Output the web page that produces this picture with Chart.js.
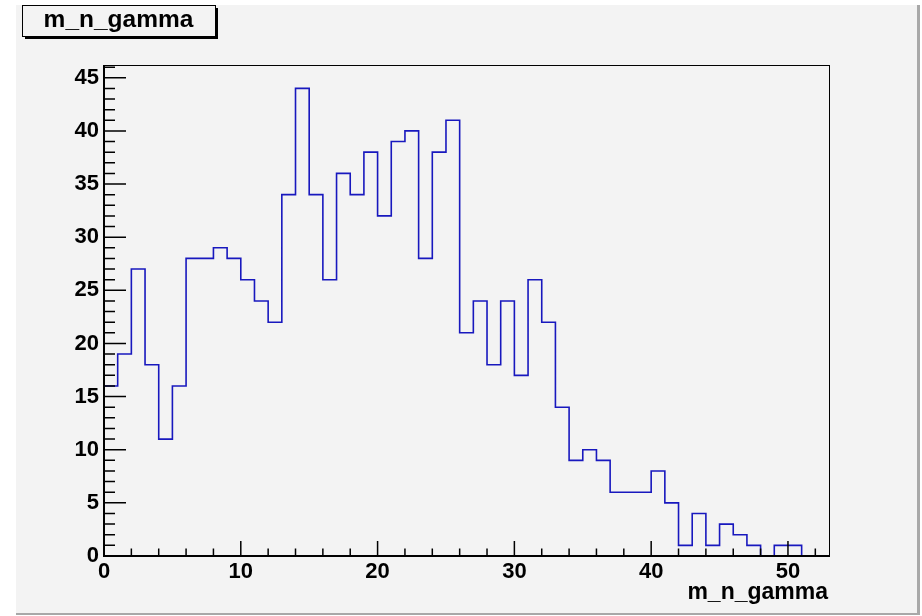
<!DOCTYPE html>
<html>
<head>
<meta charset="utf-8">
<script src="https://cdn.jsdelivr.net/npm/chart.js@4/dist/chart.umd.min.js"></script>
<style>
  html, body { margin: 0; padding: 0; background: #ffffff; }
  canvas { display: block; }
</style>
</head>
<body>
<canvas id="c" width="922" height="616"></canvas>
<script>
// ---- data ----
const histTitle = "m_n_gamma";
const axisTitle = "m_n_gamma";
const binEdges = [0,1,2,3,4,5,6,7,8,9,10,11,12,13,14,15,16,17,18,19,20,21,22,23,24,25,26,27,28,29,30,31,32,33,34,35,36,37,38,39,40,41,42,43,44,45,46,47,48,49,50,51,52,53];
const counts = [16,19,27,18,11,16,28,28,29,28,26,24,22,34,44,34,26,36,34,38,32,39,40,28,38,41,21,24,18,24,17,26,22,14,9,10,9,6,6,6,8,5,1,4,1,3,2,1,0,1,1,0,0];
const xTickLabels = [0,10,20,30,40,50];
const yTickLabels = [0,5,10,15,20,25,30,35,40,45];
const xMinorTicks = [0,2,4,6,8,10,12,14,16,18,20,22,24,26,28,30,32,34,36,38,40,42,44,46,48,50,52];
const yMinorTicks = [0,1,2,3,4,5,6,7,8,9,10,11,12,13,14,15,16,17,18,19,20,21,22,23,24,25,26,27,28,29,30,31,32,33,34,35,36,37,38,39,40,41,42,43,44,45,46];
const xMin = 0, xMax = 53, yMin = 0, yMax = 46.2;

// points for step outline: each bin's low edge with its count, plus closing edge
const points = counts.map((v, i) => ({x: binEdges[i], y: v}));
points.push({x: binEdges[binEdges.length - 1], y: counts[counts.length - 1]});

const BG = '#f3f3f3';
const FONT = '"Liberation Sans", Arial, Helvetica, sans-serif';

const rootPlugin = {
  id: 'rootStyle',
  beforeDraw(chart) {
    const ctx = chart.ctx;
    ctx.save();
    ctx.fillStyle = '#ffffff';
    ctx.fillRect(0, 0, chart.width, chart.height);
    ctx.fillStyle = BG;
    ctx.fillRect(16, 5, 901, 608);
    ctx.fillStyle = '#a8a8a8';
    ctx.fillRect(917, 5, 3, 610);
    ctx.fillRect(16, 613, 904, 2);
    ctx.restore();
  },
  afterDraw(chart) {
    const ctx = chart.ctx;
    const xs = chart.scales.x, ys = chart.scales.y;
    const a = chart.chartArea;
    ctx.save();
    // frame
    ctx.strokeStyle = '#000000';
    ctx.lineWidth = 1;
    ctx.strokeRect(a.left + 0.5, a.top + 0.5, a.right - a.left, a.bottom - a.top);
    // axes (thicker)
    ctx.lineWidth = 2;
    ctx.beginPath();
    ctx.moveTo(a.left, a.top); ctx.lineTo(a.left, a.bottom + 1);
    ctx.moveTo(a.left - 1, a.bottom); ctx.lineTo(a.right + 1, a.bottom);
    ctx.stroke();
    ctx.lineWidth = 1.5;
    ctx.beginPath();
    // x ticks (inward)
    xMinorTicks.forEach(v => {
      const px = xs.getPixelForValue(v);
      const len = xTickLabels.includes(v) ? 15 : 7.5;
      ctx.moveTo(px, a.bottom); ctx.lineTo(px, a.bottom - len);
    });
    // y ticks (inward)
    yMinorTicks.forEach(v => {
      const py = ys.getPixelForValue(v);
      const len = yTickLabels.includes(v) ? 22 : 11;
      ctx.moveTo(a.left, py); ctx.lineTo(a.left + len, py);
    });
    ctx.stroke();

    // axis title
    ctx.fillStyle = '#000000';
    ctx.font = 'bold 23px ' + FONT;
    ctx.textAlign = 'right';
    ctx.textBaseline = 'alphabetic';
    ctx.fillText(axisTitle, a.right - 1, 599);

    // title box with shadow
    const bx = 22, by = 5, bw = 193, bh = 31;
    ctx.fillStyle = '#000000';
    ctx.fillRect(bx + 3, by + 3, bw, bh);
    ctx.fillStyle = BG;
    ctx.fillRect(bx, by, bw, bh);
    ctx.lineWidth = 1;
    ctx.strokeStyle = '#000000';
    ctx.strokeRect(bx + 0.5, by + 0.5, bw, bh);
    ctx.fillStyle = '#000000';
    ctx.font = 'bold 24.5px ' + FONT;
    ctx.textAlign = 'center';
    ctx.fillText(histTitle, bx + bw / 2, 27);
    ctx.restore();
  }
};

new Chart(document.getElementById('c'), {
  type: 'line',
  data: {
    datasets: [{
      data: points,
      stepped: 'before',
      borderColor: 'rgb(24,24,190)',
      borderWidth: 1.6,
      pointRadius: 0,
      fill: false,
      tension: 0
    }]
  },
  options: {
    responsive: false,
    devicePixelRatio: 1,
    animation: false,
    parsing: false,
    layout: { padding: { left: 0, right: 93, top: 65, bottom: 0 } },
    plugins: { legend: { display: false }, tooltip: { enabled: false }, title: { display: false } },
    scales: {
      x: {
        type: 'linear',
        min: xMin, max: xMax,
        border: { display: false },
        grid: { display: false, drawTicks: false },
        afterBuildTicks: s => { s.ticks = xTickLabels.map(v => ({value: v})); },
        afterFit: s => { s.height = 60; },
        ticks: {
          padding: 3,
          maxRotation: 0,
          autoSkip: false,
          color: '#000000',
          font: { family: FONT, size: 22, weight: 'bold' },
          callback: v => String(v)
        }
      },
      y: {
        type: 'linear',
        min: yMin, max: yMax,
        border: { display: false },
        grid: { display: false, drawTicks: false },
        afterBuildTicks: s => { s.ticks = yTickLabels.map(v => ({value: v})); },
        afterFit: s => { s.width = 104; },
        ticks: {
          padding: 5,
          autoSkip: false,
          color: '#000000',
          font: { family: FONT, size: 22, weight: 'bold' },
          callback: v => String(v)
        }
      }
    }
  },
  plugins: [rootPlugin]
});
</script>
</body>
</html>
